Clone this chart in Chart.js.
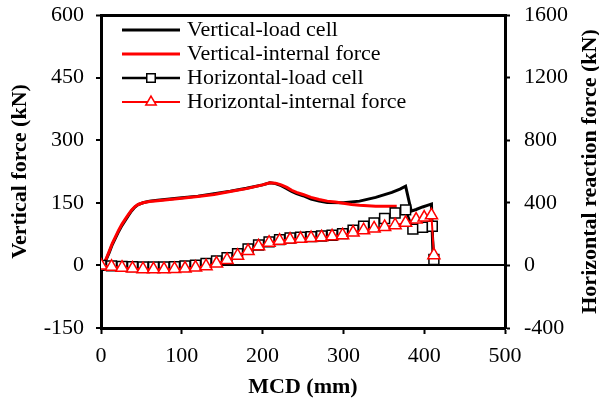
<!DOCTYPE html>
<html lang="en">
<head>
    <meta charset="UTF-8">
    <title>Vertical and horizontal force vs MCD</title>
    <script src="https://cdn.jsdelivr.net/npm/chart.js"></script>
    <style>
        body { margin: 0; background: #fff; }
    </style>
</head>
<body>
<canvas id="myChart" width="599" height="408"></canvas>
<script>
    // vertical forces (left axis, kN) against MCD (mm)
    const vlcX = [0, 3, 6, 10, 14, 18, 22, 26, 30, 34, 38, 42, 46, 52, 60, 70, 85, 100, 120, 140, 160, 180, 200, 209, 216, 223, 230, 236, 242, 250, 260, 270, 280, 300, 320, 340, 360, 370, 377, 384, 390, 398, 404, 409, 410, 411];
    const vlcY = [0, 3, 12, 30, 50, 66, 82, 96, 108, 120, 131, 140, 146, 150, 154, 156, 159, 162, 166, 172, 178, 185, 193, 198, 196, 191, 184, 177, 172, 167, 159, 154, 151, 150, 154, 163, 175, 183, 190, 130, 134, 140, 144, 147, 80, 15];

    const vifX = [0, 3, 6, 10, 14, 18, 22, 26, 30, 34, 38, 42, 46, 52, 60, 70, 85, 100, 120, 140, 160, 180, 200, 209, 216, 223, 230, 236, 242, 250, 260, 270, 280, 290, 300, 310, 320, 340, 366];
    const vifY = [0, 4, 14, 33, 53, 69, 85, 99, 111, 122, 133, 141, 146, 150, 153, 155, 158, 161, 165, 170, 177, 184, 193, 198, 197, 193, 187, 180, 175, 170, 163, 158, 154, 152, 149, 146, 144, 142, 142];

    // horizontal forces (right axis, kN)
    const hlcX = [0, 13, 26, 39, 52, 65, 78, 91, 104, 117, 130, 143, 156, 169, 182, 195, 208, 221, 234, 247, 260, 273, 286, 299, 312, 325, 338, 351, 364, 377, 386, 398, 410, 412];
    const hlcY = [0, -3, -6, -8, -10, -10, -10, -8, -4, 2, 12, 28, 50, 75, 105, 130, 150, 165, 175, 180, 184, 188, 193, 203, 225, 250, 272, 300, 335, 355, 232, 244, 250, 38];

    const hifX = [0, 13, 26, 39, 52, 65, 78, 91, 104, 117, 130, 143, 156, 169, 182, 195, 208, 221, 234, 247, 260, 273, 286, 299, 312, 325, 338, 351, 364, 377, 390, 400, 409, 412];
    const hifY = [0, -8, -15, -20, -24, -25, -25, -23, -20, -14, -5, 12, 35, 62, 92, 122, 145, 158, 165, 170, 175, 180, 186, 193, 210, 225, 236, 246, 257, 272, 293, 306, 320, 65];

    const seriesNames = ['Vertical-load cell', 'Vertical-internal force', 'Horizontal-load cell', 'Horizontal-internal force'];

    const toPoints = (xs, ys) => xs.map((x, i) => ({ x: x, y: ys[i] }));

    const FONT = "'Liberation Serif', 'Times New Roman', serif";

    // legend drawn inside the plot, top left
    const insideLegend = {
        id: 'insideLegend',
        afterDatasetsDraw(chart) {
            const ctx = chart.ctx;
            chart.data.datasets.forEach((ds, i) => {
                const y = 30 + i * 24;
                ctx.save();
                ctx.strokeStyle = ds.borderColor;
                ctx.lineWidth = ds.borderWidth;
                ctx.beginPath();
                ctx.moveTo(122, y);
                ctx.lineTo(180, y);
                ctx.stroke();
                if (ds.pointRadius > 0) {
                    ctx.fillStyle = '#fff';
                    ctx.strokeStyle = ds.pointBorderColor;
                    ctx.lineWidth = ds.pointBorderWidth;
                    Chart.helpers.drawPoint(ctx, {
                        pointStyle: ds.pointStyle,
                        radius: ds.pointRadius - 1,
                        borderWidth: ds.pointBorderWidth,
                        rotation: 0
                    }, 151, y);
                }
                ctx.fillStyle = '#000';
                ctx.font = '22px ' + FONT;
                ctx.textBaseline = 'middle';
                ctx.textAlign = 'left';
                ctx.fillText(ds.label, 187, y);
                ctx.restore();
            });
        }
    };

    // right axis title reads bottom to top like the left one
    const rightTitle = {
        id: 'rightTitle',
        afterDraw(chart) {
            const ctx = chart.ctx;
            const area = chart.chartArea;
            ctx.save();
            ctx.translate(590, (area.top + area.bottom) / 2);
            ctx.rotate(-Math.PI / 2);
            ctx.fillStyle = '#000';
            ctx.font = 'bold 22px ' + FONT;
            ctx.textAlign = 'center';
            ctx.textBaseline = 'middle';
            ctx.fillText('Horizontal reaction force (kN)', 0, 0);
            ctx.restore();
        }
    };

    const data = {
        datasets: [{
            label: seriesNames[0],
            data: toPoints(vlcX, vlcY),
            yAxisID: 'y',
            borderColor: '#000',
            borderWidth: 3,
            pointRadius: 0,
            showLine: true,
            order: 3
        }, {
            label: seriesNames[1],
            data: toPoints(vifX, vifY),
            yAxisID: 'y',
            borderColor: '#ff0000',
            borderWidth: 3,
            pointRadius: 0,
            showLine: true,
            order: 2
        }, {
            label: seriesNames[2],
            data: toPoints(hlcX, hlcY),
            yAxisID: 'y2',
            borderColor: '#000',
            borderWidth: 2.5,
            pointStyle: 'rect',
            pointRadius: 7,
            pointBackgroundColor: '#fff',
            pointBorderColor: '#000',
            pointBorderWidth: 1.5,
            showLine: true,
            order: 1
        }, {
            label: seriesNames[3],
            data: toPoints(hifX, hifY),
            yAxisID: 'y2',
            borderColor: '#ff0000',
            borderWidth: 2,
            pointStyle: 'triangle',
            pointRadius: 7,
            pointBackgroundColor: '#fff',
            pointBorderColor: '#ff0000',
            pointBorderWidth: 1.5,
            showLine: true,
            order: 0
        }]
    };

    const tickFont = { family: FONT, size: 22 };
    const plainNum = v => String(v);

    const config = {
        type: 'scatter',
        data: data,
        plugins: [insideLegend, rightTitle],
        options: {
            responsive: false,
            animation: false,
            events: [],
            layout: { padding: { top: 15, left: 0, right: 0, bottom: 0 } },
            plugins: {
                legend: { display: false },
                tooltip: { enabled: false }
            },
            elements: { line: { tension: 0 } },
            scales: {
                x: {
                    type: 'linear',
                    position: 'bottom',
                    min: 0,
                    max: 500,
                    ticks: { stepSize: 100, font: tickFont, color: '#000', padding: 9, callback: plainNum },
                    grid: { drawOnChartArea: false, tickLength: 6, tickWidth: 2, tickColor: '#000' },
                    border: { color: '#000', width: 3 },
                    title: {
                        display: true,
                        text: 'MCD (mm)',
                        color: '#000',
                        font: { family: FONT, size: 22, weight: 'bold' },
                        padding: { top: 0, bottom: 7 }
                    },
                    afterFit(scale) { scale.height = 80; }
                },
                y: {
                    position: 'left',
                    min: -150,
                    max: 600,
                    ticks: { stepSize: 150, font: tickFont, color: '#000', padding: 12, callback: plainNum },
                    grid: {
                        drawOnChartArea: true,
                        color: ctx => (ctx.tick && (ctx.tick.value === 0 || ctx.tick.value === 600)) ? '#000' : 'rgba(0,0,0,0)',
                        lineWidth: ctx => (ctx.tick && ctx.tick.value === 600) ? 3 : 2,
                        tickLength: 5,
                        tickWidth: 2,
                        tickColor: '#000'
                    },
                    border: { color: '#000', width: 3 },
                    title: {
                        display: true,
                        text: 'Vertical force (kN)',
                        color: '#000',
                        font: { family: FONT, size: 22, weight: 'bold' },
                        padding: { top: 7, bottom: 0 }
                    },
                    afterFit(scale) {
                        scale.width = 101;
                        scale.paddingTop = 0;
                        scale.paddingBottom = 0;
                    }
                },
                y2: {
                    position: 'right',
                    min: -400,
                    max: 1600,
                    ticks: { stepSize: 400, font: tickFont, color: '#000', padding: 14, callback: plainNum },
                    grid: { drawOnChartArea: false, tickLength: 5, tickWidth: 2, tickColor: '#000' },
                    border: { color: '#000', width: 3 },
                    afterFit(scale) {
                        scale.width = 94;
                        scale.paddingTop = 0;
                        scale.paddingBottom = 0;
                    }
                }
            }
        }
    };

    const myChart = new Chart(document.getElementById('myChart'), config);
</script>
</body>
</html>
